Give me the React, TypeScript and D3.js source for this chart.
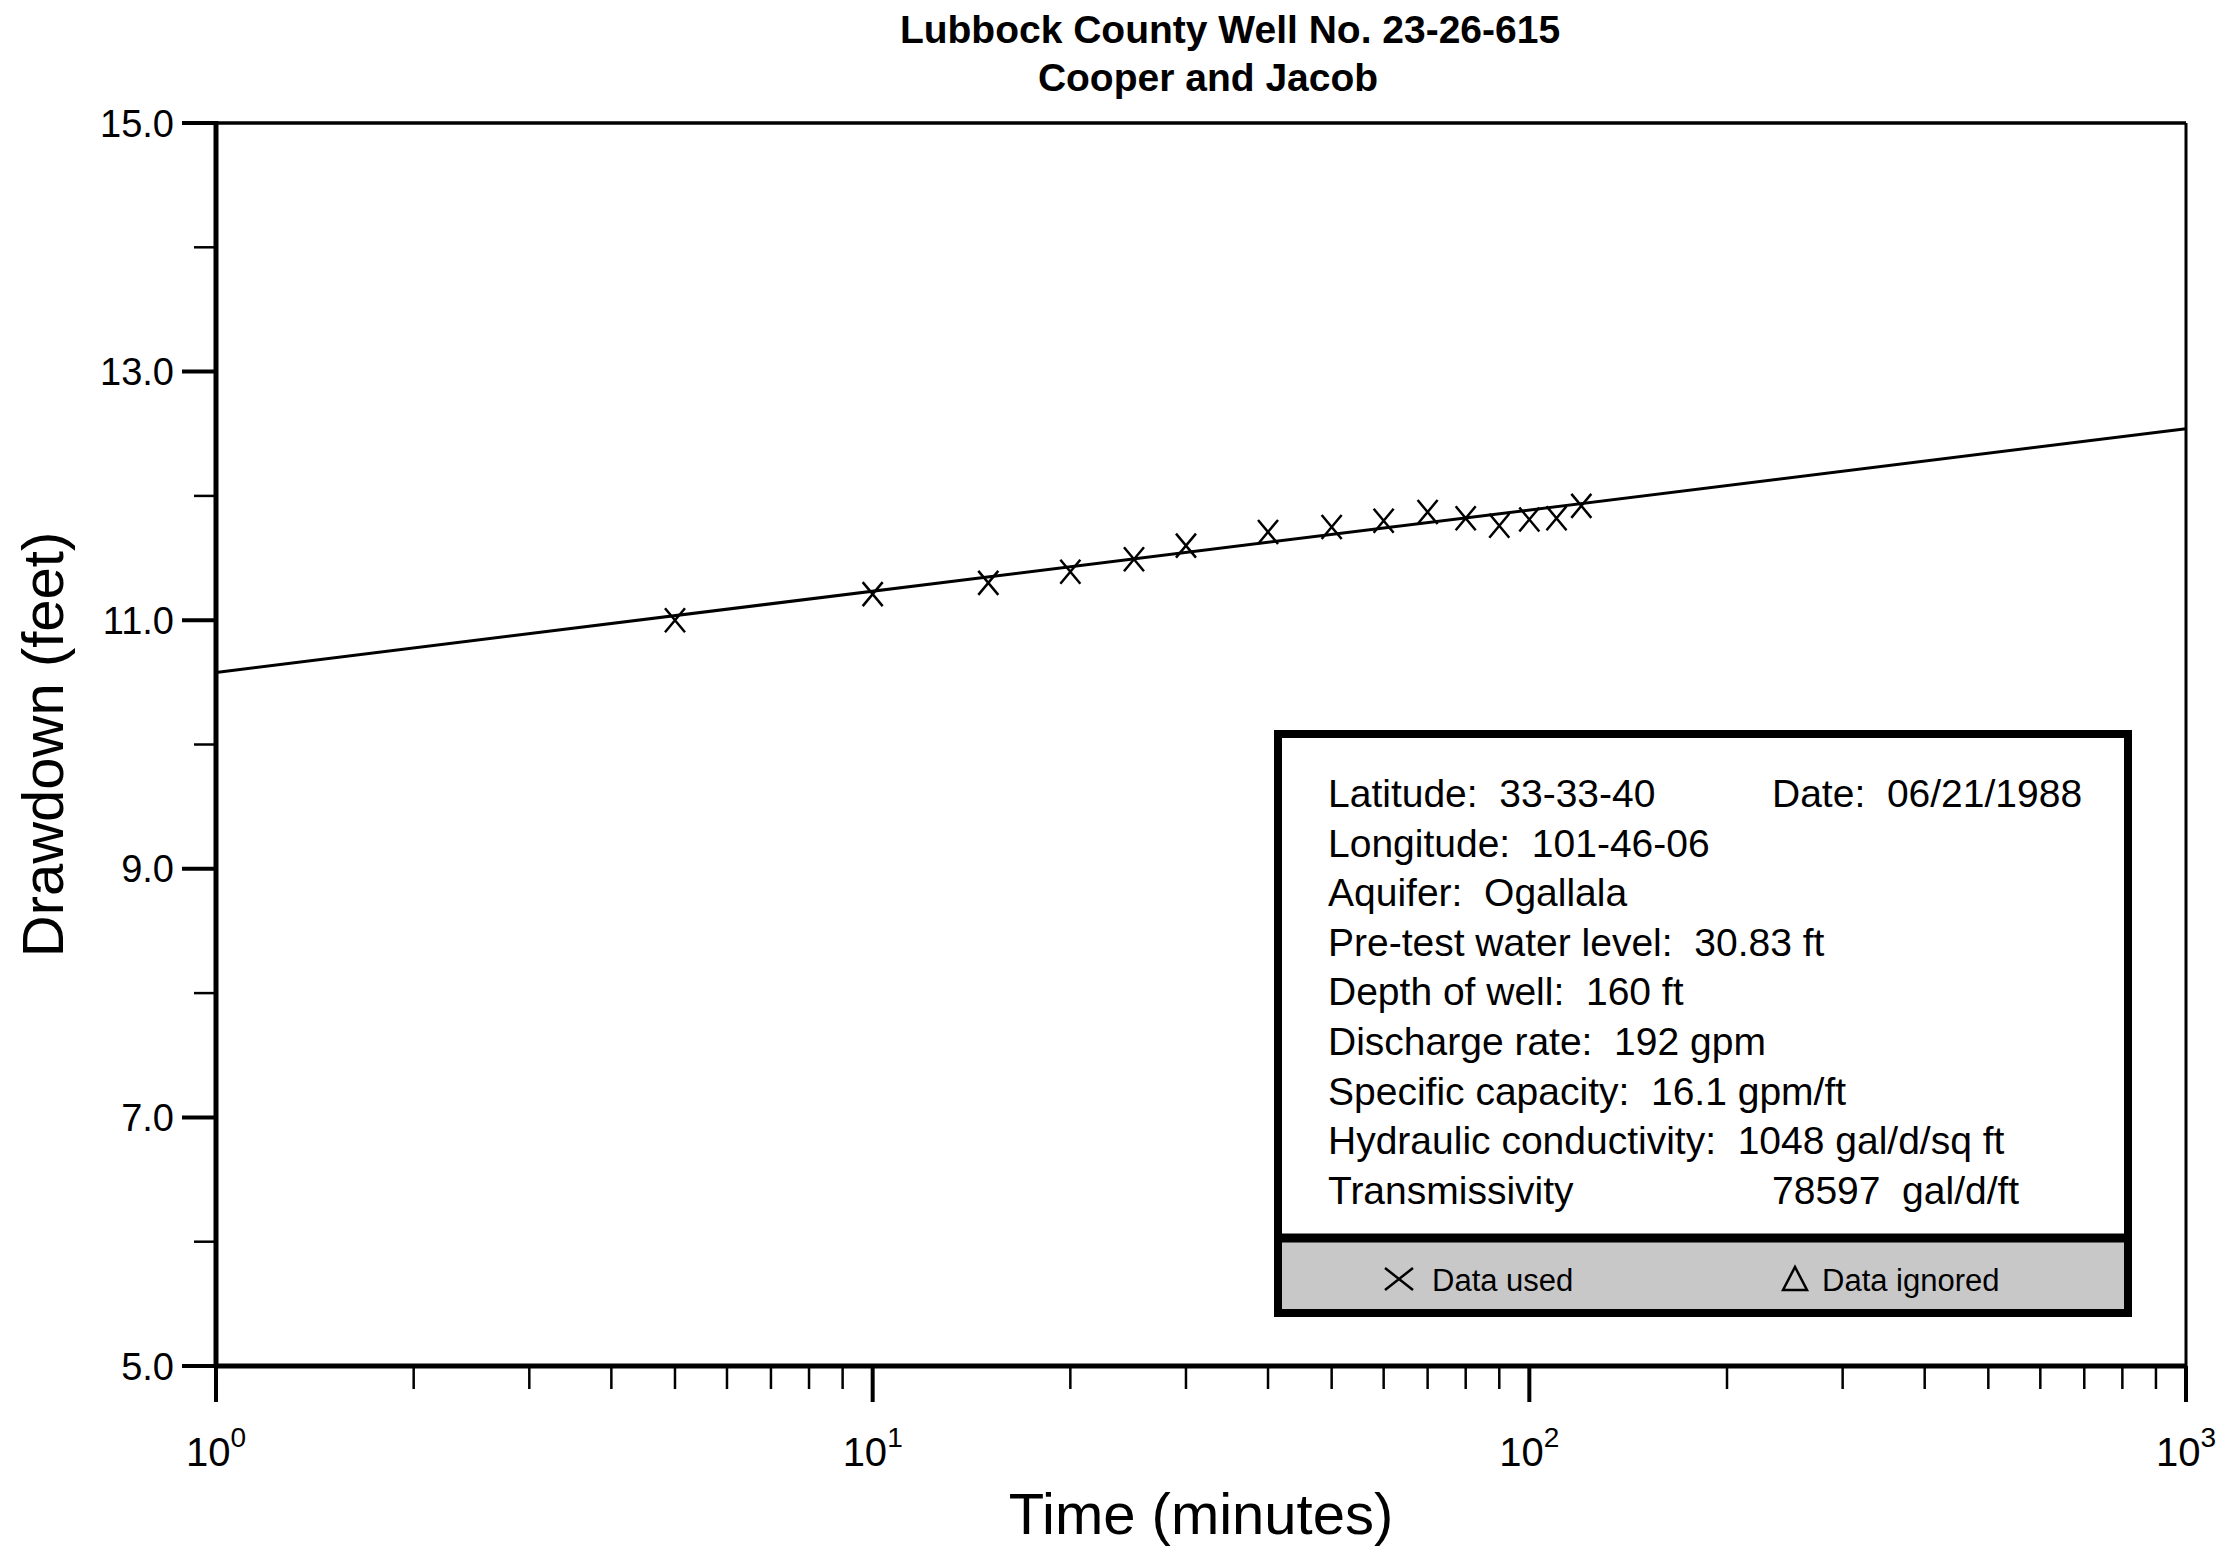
import React, { useRef, useEffect } from "react";
import * as d3 from "d3";

// Pumping test readings (time in minutes vs drawdown in feet)
const times = [5, 10, 15, 20, 25, 30, 40, 50, 60, 70, 80, 90, 100, 110, 120];
const drawdown = [11.0, 11.21, 11.3, 11.39, 11.49, 11.6, 11.71, 11.75, 11.8, 11.87, 11.82, 11.76, 11.81, 11.82, 11.92];

// Cooper-Jacob straight line, end points
const fitTimes = [1, 1000];
const fitDrawdown = [10.58, 12.54];

const yTicks = [5, 6, 7, 8, 9, 10, 11, 12, 13, 14, 15];
const decades = [1, 10, 100];
const decadeLabels = [
  { value: 1, exp: "0" },
  { value: 10, exp: "1" },
  { value: 100, exp: "2" },
  { value: 1000, exp: "3" },
];

const infoLeft = [
  "Latitude:  33-33-40",
  "Longitude:  101-46-06",
  "Aquifer:  Ogallala",
  "Pre-test water level:  30.83 ft",
  "Depth of well:  160 ft",
  "Discharge rate:  192 gpm",
  "Specific capacity:  16.1 gpm/ft",
  "Hydraulic conductivity:  1048 gal/d/sq ft",
  "Transmissivity",
];
const infoRight = ["Date:  06/21/1988", "", "", "", "", "", "", "", "78597  gal/d/ft"];

const WIDTH = 2229;
const HEIGHT = 1551;
const FONT = "'Liberation Sans', Arial, Helvetica, sans-serif";

const nb = (s: string) => s.replace(/ /g, "\u00A0");

export default function App() {
  const svgRef = useRef<SVGSVGElement>(null);

  useEffect(() => {
    if (!svgRef.current) return;
    const svg = d3.select(svgRef.current);
    svg.selectAll("*").remove();

    const left = 216, right = 2186, top = 123, bottom = 1366;

    const x = d3.scaleLog().domain([1, 1000]).range([left, right]);
    const y = d3.scaleLinear().domain([5, 15]).range([bottom, top]);

    svg.append("rect").attr("width", WIDTH).attr("height", HEIGHT).attr("fill", "#fff");

    // title
    svg.append("text")
      .attr("x", 1230).attr("y", 43)
      .attr("text-anchor", "middle")
      .attr("font-family", FONT).attr("font-weight", "bold").attr("font-size", 39)
      .text("Lubbock County Well No. 23-26-615");
    svg.append("text")
      .attr("x", 1208).attr("y", 91)
      .attr("text-anchor", "middle")
      .attr("font-family", FONT).attr("font-weight", "bold").attr("font-size", 39)
      .text("Cooper and Jacob");

    // frame
    const frame = svg.append("g").attr("stroke", "#000").attr("fill", "none");
    frame.append("line").attr("x1", left).attr("x2", right).attr("y1", top).attr("y2", top).attr("stroke-width", 3.5);
    frame.append("line").attr("x1", right).attr("x2", right).attr("y1", top).attr("y2", bottom).attr("stroke-width", 3);
    frame.append("line").attr("x1", left).attr("x2", left).attr("y1", top - 2).attr("y2", bottom).attr("stroke-width", 5);
    frame.append("line").attr("x1", left - 2).attr("x2", right).attr("y1", bottom).attr("y2", bottom).attr("stroke-width", 5);

    // y ticks
    const yt = svg.append("g");
    yTicks.forEach((v) => {
      const major = (v - 5) % 2 === 0;
      yt.append("line")
        .attr("x1", left - (major ? 34 : 22)).attr("x2", left)
        .attr("y1", y(v)).attr("y2", y(v))
        .attr("stroke", "#000").attr("stroke-width", major ? 4 : 2.5);
      if (major) {
        yt.append("text")
          .attr("x", left - 42).attr("y", y(v))
          .attr("dy", "0.36em")
          .attr("text-anchor", "end")
          .attr("font-family", FONT).attr("font-size", 38)
          .text(d3.format(".1f")(v));
      }
    });

    // x ticks
    const xt = svg.append("g");
    const xTickVals: { v: number; major: boolean }[] = [];
    decades.forEach((d) => {
      for (let k = 1; k <= 9; k++) xTickVals.push({ v: k * d, major: k === 1 });
    });
    xTickVals.push({ v: 1000, major: true });
    xTickVals.forEach(({ v, major }) => {
      xt.append("line")
        .attr("x1", x(v)).attr("x2", x(v))
        .attr("y1", bottom).attr("y2", bottom + (major ? 36 : 23))
        .attr("stroke", "#000").attr("stroke-width", major ? 4 : 2.5);
    });
    decadeLabels.forEach(({ value, exp }) => {
      const t = xt.append("text")
        .attr("x", x(value)).attr("y", 1466)
        .attr("text-anchor", "middle")
        .attr("font-family", FONT).attr("font-size", 40);
      t.append("tspan").text("10");
      t.append("tspan").attr("dy", -19).attr("font-size", 28).text(exp);
    });

    // axis titles
    svg.append("text")
      .attr("x", (left + right) / 2).attr("y", 1534)
      .attr("text-anchor", "middle")
      .attr("font-family", FONT).attr("font-size", 58)
      .text("Time (minutes)");
    svg.append("text")
      .attr("transform", `translate(63,${(top + bottom) / 2}) rotate(-90)`)
      .attr("text-anchor", "middle")
      .attr("font-family", FONT).attr("font-size", 58)
      .text("Drawdown (feet)");

    // fit line
    const fitData = fitTimes.map((t, i) => ({ t, s: fitDrawdown[i] }));
    const line = d3.line<{ t: number; s: number }>().x((d) => x(d.t)).y((d) => y(d.s));
    svg.append("path")
      .datum(fitData)
      .attr("d", line)
      .attr("fill", "none").attr("stroke", "#000").attr("stroke-width", 3);

    // data markers
    const pts = times.map((t, i) => ({ t, s: drawdown[i] }));
    const hw = 10, hh = 12;
    svg.append("g")
      .selectAll("path")
      .data(pts)
      .enter()
      .append("path")
      .attr("d", (d) => {
        const cx = x(d.t), cy = y(d.s);
        return `M${cx - hw},${cy - hh}L${cx + hw},${cy + hh}M${cx - hw},${cy + hh}L${cx + hw},${cy - hh}`;
      })
      .attr("fill", "none").attr("stroke", "#000").attr("stroke-width", 2.5);

    // info box
    const bx = 1278, by = 734, bw = 850, bh = 579, divY = 1238;
    const box = svg.append("g");
    box.append("rect").attr("x", bx).attr("y", by).attr("width", bw).attr("height", bh).attr("fill", "#fff");
    box.append("rect").attr("x", bx).attr("y", divY).attr("width", bw).attr("height", by + bh - divY).attr("fill", "#c8c8c8");
    box.append("line").attr("x1", bx).attr("x2", bx + bw).attr("y1", divY).attr("y2", divY)
      .attr("stroke", "#000").attr("stroke-width", 9);
    box.append("rect").attr("x", bx).attr("y", by).attr("width", bw).attr("height", bh)
      .attr("fill", "none").attr("stroke", "#000").attr("stroke-width", 8);

    infoLeft.forEach((s, i) => {
      box.append("text")
        .attr("x", 1328).attr("y", 807 + i * 49.6)
        .attr("font-family", FONT).attr("font-size", 39)
        .text(nb(s));
    });
    infoRight.forEach((s, i) => {
      if (!s) return;
      box.append("text")
        .attr("x", 1772).attr("y", 807 + i * 49.6)
        .attr("font-family", FONT).attr("font-size", 39)
        .text(nb(s));
    });

    // legend row
    box.append("path")
      .attr("d", `M1385,1268L1413,1290M1385,1290L1413,1268`)
      .attr("stroke", "#000").attr("stroke-width", 2.5).attr("fill", "none");
    box.append("text")
      .attr("x", 1432).attr("y", 1291)
      .attr("font-family", FONT).attr("font-size", 31)
      .text("Data used");
    box.append("path")
      .attr("d", `M1783,1290L1795,1267L1807,1290Z`)
      .attr("stroke", "#000").attr("stroke-width", 2.5).attr("fill", "none");
    box.append("text")
      .attr("x", 1822).attr("y", 1291)
      .attr("font-family", FONT).attr("font-size", 31)
      .text("Data ignored");
  }, []);

  return (
    <div style={{ position: "absolute", left: 0, top: 0 }}>
      <svg ref={svgRef} width={WIDTH} height={HEIGHT} style={{ display: "block" }} />
    </div>
  );
}
